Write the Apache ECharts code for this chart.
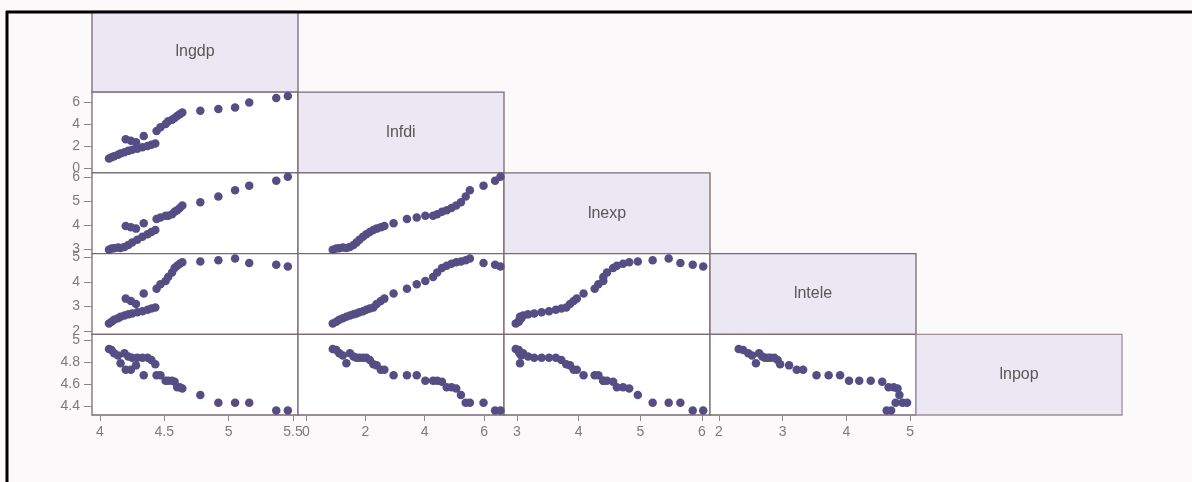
<!DOCTYPE html>
<html>
<head>
<meta charset="utf-8">
<script src="https://cdn.jsdelivr.net/npm/echarts@6/dist/echarts.min.js"></script>
<style>
html,body{margin:0;padding:0;background:#fbf9fa;}
#chart{width:1192px;height:482px;}
</style>
</head>
<body>
<div id="chart"></div>
<script>
// ---- data (one observation per index) ----
const varNames = ['lngdp', 'lnfdi', 'lnexp', 'lntele', 'lnpop'];
const lngdp  = [4.07,4.09,4.11,4.14,4.16,4.19,4.22,4.25,4.29,4.33,4.37,4.40,4.43,4.28,4.24,4.20,4.34,4.44,4.47,4.51,4.53,4.56,4.58,4.60,4.62,4.64,4.78,4.92,5.05,5.16,5.37,5.46];
const lnfdi  = [0.90,1.02,1.12,1.24,1.36,1.48,1.60,1.70,1.80,1.92,2.03,2.15,2.27,2.38,2.52,2.64,2.95,3.40,3.73,4.02,4.28,4.42,4.58,4.74,4.90,5.06,5.22,5.38,5.52,5.98,6.37,6.55];
const lnexp  = [2.98,3.03,3.04,3.07,3.05,3.10,3.18,3.28,3.40,3.52,3.63,3.72,3.80,3.86,3.92,3.97,4.08,4.26,4.32,4.40,4.40,4.46,4.56,4.62,4.72,4.82,4.96,5.20,5.46,5.65,5.85,6.02];
const lntele = [2.31,2.38,2.46,2.52,2.58,2.63,2.68,2.72,2.77,2.81,2.87,2.92,2.96,3.10,3.22,3.32,3.53,3.72,3.90,4.04,4.20,4.38,4.56,4.66,4.74,4.80,4.83,4.88,4.95,4.77,4.70,4.63];
const lnpop  = [4.92,4.91,4.88,4.86,4.79,4.88,4.85,4.84,4.84,4.84,4.84,4.82,4.78,4.77,4.73,4.73,4.68,4.68,4.68,4.63,4.63,4.63,4.62,4.57,4.57,4.56,4.50,4.43,4.43,4.43,4.36,4.36];

// tick values per variable
const ticksGdp  = [4, 4.5, 5, 5.5];
const ticksFdi  = [0, 2, 4, 6];
const ticksExp  = [3, 4, 5, 6];
const ticksTele = [2, 3, 4, 5];
const ticksPop  = [4.4, 4.6, 4.8, 5];

const values = [lngdp, lnfdi, lnexp, lntele, lnpop];
const ticks = [ticksGdp, ticksFdi, ticksExp, ticksTele, ticksPop];
// axis extents when used horizontally / vertically
const xRange = [[3.938, 5.539], [-0.27, 6.67], [2.79, 6.13], [1.86, 5.09], [4.3, 5.05]];
const yRange = [[3.9, 5.6], [-0.39, 6.9], [2.82, 6.18], [1.87, 5.15], [4.318, 5.053]];

// ---- layout ----
const X0 = 92, Y0 = 11.5, CW = 206, CH = 80.7, N = 5;
const dotColor = '#544e84';
const borderColor = '#7a6a72';
const labelColor = '#7d7a7c';
const font = 'Liberation Sans';

const grids = [], xAxes = [], yAxes = [], series = [], graphics = [];
let g = 0;
for (let i = 0; i < N; i++) {
  for (let j = 0; j <= i; j++) {
    const diag = (i === j);
    grids.push({
      left: X0 + j * CW, top: Y0 + i * CH, width: CW, height: CH,
      show: true,
      backgroundColor: diag ? '#ebe8f3' : '#ffffff',
      borderColor: (diag && i === N - 1) ? '#9c9198' : borderColor,
      borderWidth: 1.3,
      containLabel: false
    });
    const bottom = (i === N - 1) && !diag;
    const left = (j === 0) && !diag;
    xAxes.push({
      gridIndex: g, type: 'value',
      min: xRange[j][0], max: xRange[j][1],
      show: !diag,
      axisLine: {show: false},
      splitLine: {show: false},
      axisTick: {show: bottom, length: 6, lineStyle: {color: '#8a8587', width: 1}, customValues: ticks[j]},
      axisLabel: {show: bottom, color: labelColor, fontSize: 14, fontFamily: font, margin: 10, customValues: ticks[j]}
    });
    yAxes.push({
      gridIndex: g, type: 'value',
      min: yRange[i][0], max: yRange[i][1],
      show: !diag,
      axisLine: {show: false},
      splitLine: {show: false},
      axisTick: {show: left, length: 8, lineStyle: {color: '#8a8587', width: 1}, customValues: ticks[i]},
      axisLabel: {show: left, color: labelColor, fontSize: 14, fontFamily: font, margin: 12, customValues: ticks[i]}
    });
    if (!diag) {
      const xs = values[j], ys = values[i];
      series.push({
        type: 'scatter', xAxisIndex: g, yAxisIndex: g,
        symbol: 'circle', symbolSize: 8.5,
        itemStyle: {color: dotColor, opacity: 1},
        data: xs.map((v, k) => [v, ys[k]]),
        silent: true
      });
    } else {
      graphics.push({
        type: 'text', z: 100,
        x: X0 + j * CW + CW / 2, y: Y0 + i * CH + CH / 2,
        style: {text: varNames[i], fill: '#5a5658', fontSize: 16, fontFamily: font,
                align: 'center', verticalAlign: 'middle'}
      });
    }
    g++;
  }
}
// scanned page frame
graphics.push({type: 'line', z: 200, shape: {x1: 6, y1: 12, x2: 1192, y2: 12}, style: {stroke: '#000', lineWidth: 3}});
graphics.push({type: 'line', z: 200, shape: {x1: 7, y1: 11, x2: 7, y2: 482}, style: {stroke: '#000', lineWidth: 3}});

const chart = echarts.init(document.getElementById('chart'), null, {renderer: 'canvas'});
chart.setOption({
  backgroundColor: '#fbf9fa',
  animation: false,
  grid: grids,
  xAxis: xAxes,
  yAxis: yAxes,
  series: series,
  graphic: graphics
});
</script>
</body>
</html>
